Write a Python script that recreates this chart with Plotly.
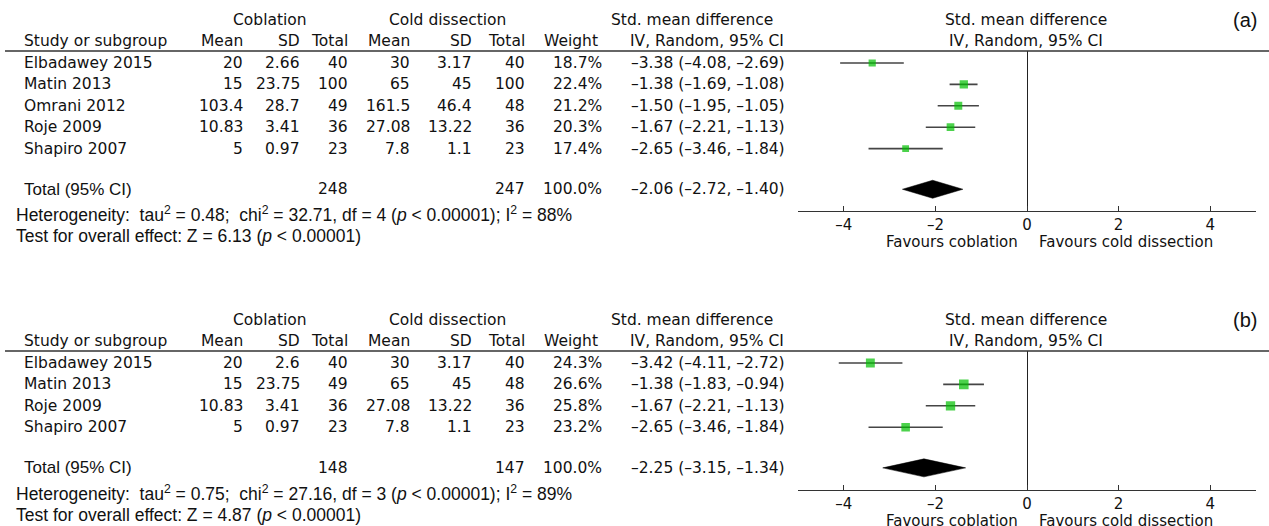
import plotly.graph_objects as go

# ---------------- data ----------------
studies_a = ["Elbadawey 2015", "Matin 2013", "Omrani 2012", "Roje 2009", "Shapiro 2007"]
cob_mean_a = [20, 15, 103.4, 10.83, 5]
cob_sd_a = [2.66, 23.75, 28.7, 3.41, 0.97]
cob_n_a = [40, 100, 49, 36, 23]
cold_mean_a = [30, 65, 161.5, 27.08, 7.8]
cold_sd_a = [3.17, 45, 46.4, 13.22, 1.1]
cold_n_a = [40, 100, 48, 36, 23]
weight_a = [18.7, 22.4, 21.2, 20.3, 17.4]
smd_a = [-3.38, -1.38, -1.50, -1.67, -2.65]
lo_a = [-4.08, -1.69, -1.95, -2.21, -3.46]
hi_a = [-2.69, -1.08, -1.05, -1.13, -1.84]
total_a = dict(cob_n=248, cold_n=247, est=-2.06, lo=-2.72, hi=-1.40)
het_a = "Heterogeneity:  tau<sup>2</sup> = 0.48;  chi<sup>2</sup> = 32.71, df = 4 (<i>p</i> < 0.00001); I<sup>2</sup> = 88%"
test_a = "Test for overall effect: Z = 6.13 (<i>p</i> < 0.00001)"

studies_b = ["Elbadawey 2015", "Matin 2013", "Roje 2009", "Shapiro 2007"]
cob_mean_b = [20, 15, 10.83, 5]
cob_sd_b = [2.6, 23.75, 3.41, 0.97]
cob_n_b = [40, 49, 36, 23]
cold_mean_b = [30, 65, 27.08, 7.8]
cold_sd_b = [3.17, 45, 13.22, 1.1]
cold_n_b = [40, 48, 36, 23]
weight_b = [24.3, 26.6, 25.8, 23.2]
smd_b = [-3.42, -1.38, -1.67, -2.65]
lo_b = [-4.11, -1.83, -2.21, -3.46]
hi_b = [-2.72, -0.94, -1.13, -1.84]
total_b = dict(cob_n=148, cold_n=147, est=-2.25, lo=-3.15, hi=-1.34)
het_b = "Heterogeneity:  tau<sup>2</sup> = 0.75;  chi<sup>2</sup> = 27.16, df = 3 (<i>p</i> < 0.00001); I<sup>2</sup> = 89%"
test_b = "Test for overall effect: Z = 4.87 (<i>p</i> < 0.00001)"

tick_vals = [-4, -2, 0, 2, 4]
tick_text = ["–4", "–2", "0", "2", "4"]

# ---------------- layout constants (pixels) ----------------
W, H = 1269, 526
STEP = 21.4
TFONT = "DejaVu Sans"
FFONT = "Liberation Sans"
TSIZE = 15.5
FSIZE = 17.5
COL = "#111111"


def px(x):
    return x / W


def py(y):
    return 1 - y / H


def num(v):
    return f"{v}".replace("-", "–")


def ci(e, l, h):
    return f"{e:.2f} ({l:.2f}, {h:.2f})".replace("-", "–")


fig = go.Figure()
annotations = []
shapes = []


def add_panel(idx, top, label, studies, cm, cs, cn, dm, ds, dn, wt, smd, lo, hi, tot, het, test):
    xa = "x" if idx == 1 else f"x{idx}"
    ya = "y" if idx == 1 else f"y{idx}"
    n = len(studies)
    row0 = top + 63
    line_py = top + 51
    tot_pos = n + 0.9
    tot_py = row0 + tot_pos * STEP
    axis_py = tot_py + 22

    yrange = [(axis_py - row0) / STEP, (line_py - row0) / STEP]
    xkey = "xaxis" if idx == 1 else f"xaxis{idx}"
    ykey = "yaxis" if idx == 1 else f"yaxis{idx}"
    fig.update_layout(**{
        xkey: dict(domain=[px(798), px(1256)], range=[-5, 5], anchor=ya,
                   showgrid=False, zeroline=True, zerolinecolor="#222", zerolinewidth=1.3,
                   showline=True, linecolor="#333", linewidth=1.3,
                   ticks="inside", ticklen=5, tickwidth=1.3, tickcolor="#333",
                   tickvals=tick_vals, ticktext=tick_text,
                   tickfont=dict(family=TFONT, size=15, color=COL), fixedrange=True),
        ykey: dict(domain=[py(axis_py), py(line_py)], range=yrange, anchor=xa,
                   visible=False, fixedrange=True),
    })

    rows = list(range(n))
    xs, ys = [], []
    for i in rows:
        xs += [lo[i], hi[i], None]
        ys += [i, i, None]
    fig.add_trace(go.Scatter(x=xs, y=ys, mode="lines", xaxis=xa, yaxis=ya,
                             line=dict(color="#454545", width=1.6),
                             hoverinfo="skip", showlegend=False))
    fig.add_trace(go.Scatter(x=smd, y=rows, mode="markers", xaxis=xa, yaxis=ya,
                             marker=dict(symbol="square", color="#00bf00",
                                         size=[0.3 * w + 1.6 for w in wt], line=dict(width=0)),
                             hoverinfo="skip", showlegend=False))
    hh = 9 / STEP
    fig.add_trace(go.Scatter(x=[tot["lo"], tot["est"], tot["hi"], tot["est"], tot["lo"]],
                             y=[tot_pos, tot_pos - hh, tot_pos, tot_pos + hh, tot_pos],
                             mode="lines", fill="toself", fillcolor="black",
                             line=dict(color="black", width=0.5), xaxis=xa, yaxis=ya,
                             hoverinfo="skip", showlegend=False))

    def txt(text, x, y, anchor, yref="paper", family=TFONT, size=TSIZE):
        annotations.append(dict(text=text, x=px(x), y=y, xref="paper", yref=yref,
                                xanchor=anchor, yanchor="middle", showarrow=False,
                                font=dict(family=family, size=size, color=COL)))

    # header
    txt("Coblation", 270, py(top + 20), "center")
    txt("Cold dissection", 447, py(top + 20), "center")
    txt("Std. mean difference", 692, py(top + 20), "center")
    txt("Study or subgroup", 22, py(top + 41), "left")
    right_cols = [245, 302, 350, 412, 474, 527]
    for x, h in zip(right_cols, ["Mean", "SD", "Total", "Mean", "SD", "Total"]):
        txt(h, x, py(top + 41), "right")
    txt("Weight", 600, py(top + 41), "right")
    txt("IV, Random, 95% CI", 786, py(top + 41), "right")
    txt("Std. mean difference", 1026, py(top + 20), "center")
    txt("IV, Random, 95% CI", 1026, py(top + 41), "center")
    txt(label, 1259, py(top + 20), "right", family=FFONT, size=20)
    shapes.append(dict(type="line", xref="paper", yref="paper", x0=px(5), x1=1,
                       y0=py(line_py), y1=py(line_py), line=dict(color="#333", width=1.5)))

    # rows
    for i in rows:
        txt(studies[i], 22, i, "left", yref=ya)
        vals = [cm[i], cs[i], cn[i], dm[i], ds[i], dn[i]]
        for x, v in zip(right_cols, vals):
            txt(num(v), x, i, "right", yref=ya)
        txt(f"{wt[i]:.1f}%", 604, i, "right", yref=ya)
        txt(ci(smd[i], lo[i], hi[i]), 787, i, "right", yref=ya)

    # total row
    txt("Total (95% CI)", 22, tot_pos, "left", yref=ya, family=FFONT, size=17)
    txt(str(tot["cob_n"]), 350, tot_pos, "right", yref=ya)
    txt(str(tot["cold_n"]), 527, tot_pos, "right", yref=ya)
    txt("100.0%", 604, tot_pos, "right", yref=ya)
    txt(ci(tot["est"], tot["lo"], tot["hi"]), 787, tot_pos, "right", yref=ya)

    # footers
    txt(het, 14, py(tot_py + 25), "left", family=FFONT, size=FSIZE)
    txt(test, 14, py(tot_py + 47), "left", family=FFONT, size=FSIZE)

    # favours
    txt("Favours coblation", 1020, py(axis_py + 31), "right", size=15)
    txt("Favours cold dissection", 1037, py(axis_py + 31), "left", size=15)


add_panel(1, 0, "(a)", studies_a, cob_mean_a, cob_sd_a, cob_n_a, cold_mean_a, cold_sd_a,
          cold_n_a, weight_a, smd_a, lo_a, hi_a, total_a, het_a, test_a)
add_panel(2, 300, "(b)", studies_b, cob_mean_b, cob_sd_b, cob_n_b, cold_mean_b, cold_sd_b,
          cold_n_b, weight_b, smd_b, lo_b, hi_b, total_b, het_b, test_b)

fig.update_layout(width=W, height=H, margin=dict(l=0, r=0, t=0, b=0),
                  paper_bgcolor="white", plot_bgcolor="white",
                  annotations=annotations, shapes=shapes, showlegend=False)

fig.write_html("out.html", config={"displayModeBar": False},
               post_script="document.body.style.margin='0px';document.body.style.overflow='hidden';")
